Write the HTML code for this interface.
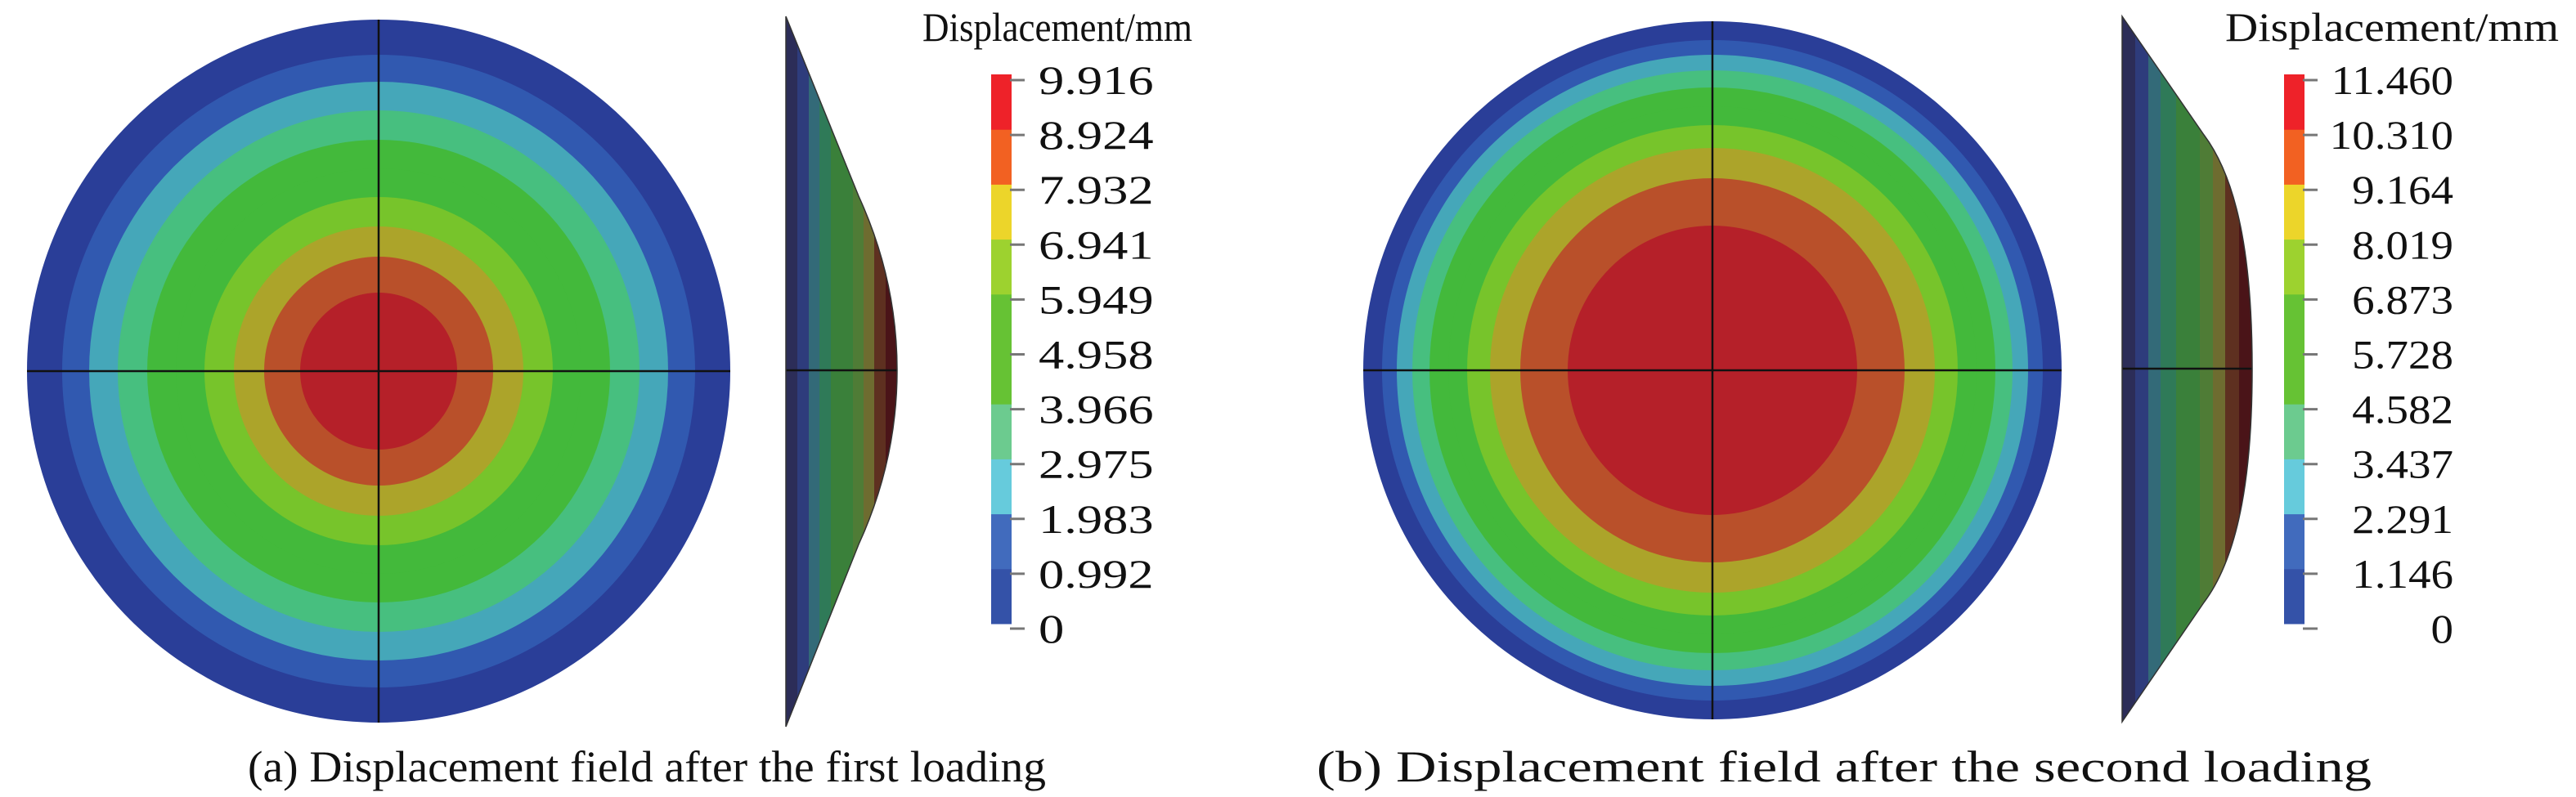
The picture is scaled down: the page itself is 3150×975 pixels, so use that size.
<!DOCTYPE html>
<html><head><meta charset="utf-8">
<style>
html,body{margin:0;padding:0;background:#fff;}
svg{display:block;}
text{font-family:"Liberation Serif","Times New Roman",serif;}
</style></head>
<body>
<svg id="fig" width="3150" height="975" viewBox="0 0 3150 975" xmlns="http://www.w3.org/2000/svg">
<rect width="3150" height="975" fill="#fff"/>
<text x="303" y="956" font-family="Liberation Serif, serif" font-size="54" textLength="976" lengthAdjust="spacingAndGlyphs" fill="#111">(a) Displacement field after the first loading</text>
<text x="1610" y="956" font-family="Liberation Serif, serif" font-size="54" textLength="1290" lengthAdjust="spacingAndGlyphs" fill="#111">(b) Displacement field after the second loading</text>
</svg>
<script>
// ---- data ----
const ringColors = ["#2a3e98","#3159b0","#45a7b9","#47bf7f","#43b93b","#43b93b","#77c42b","#aca42a","#b9502a","#b52029"];
const ringRadiiA = [430,387,354,319,283,248,213,177,140,96];
const ringRadiiB = [427,404,386,367,346,323,300,272,235,177];
const barColors = ["#3452a8","#416bbd","#66cbdc","#6ccb8f","#66c234","#66c234","#9dd22f","#ecd52a","#f26122","#ee2229"];
const ticksA = ["0","0.992","1.983","2.975","3.966","4.958","5.949","6.941","7.932","8.924","9.916"];
const ticksB = ["0","1.146","2.291","3.437","4.582","5.728","6.873","8.019","9.164","10.310","11.460"];
const profColors = ["#2c2d58","#2e3c7c","#336a78","#2f7a58","#3a803a","#4f7c36","#6e6c30","#5e3020","#4a1418"];
const profBandsA = [961,975,989,1002,1016,1043,1056,1069,1083,1097];
const profBandsB = [2595,2611,2627,2642,2661,2690,2706,2721,2738,2754];

const NS="http://www.w3.org/2000/svg";
const svg=document.getElementById('fig');
function mk(tag,attrs,parent){const e=document.createElementNS(NS,tag);for(const k in attrs)e.setAttribute(k,attrs[k]);(parent||svg).appendChild(e);return e;}

function drawCircle(cx,cy,radii,prefix){
  const g=mk('g',{});
  
  
  radii.forEach((r,i)=>{
    const c=mk('circle',{cx:cx,cy:cy,r:r,fill:ringColors[i]},g);
    
    
  });
  const r=radii[0];
  const h=mk('line',{x1:cx-r,y1:cy,x2:cx+r,y2:cy,stroke:"#111","stroke-width":2.5},g);
  
  
  const v=mk('line',{x1:cx,y1:cy-r,x2:cx,y2:cy+r,stroke:"#111","stroke-width":2.5},g);
  
  
}
drawCircle(463,454,ringRadiiA,'a');
drawCircle(2094,453,ringRadiiB,'b');

function drawProfile(bands,pathD,cy,id,prefix){
  const defs=mk('defs',{});
  const cp=mk('clipPath',{id:id},defs);
  mk('path',{d:pathD},cp);
  const g=mk('g',{'clip-path':'url(#'+id+')'});
  
  
  for(let i=0;i<bands.length-1;i++){
    const r=mk('rect',{x:bands[i],y:0,width:bands[i+1]-bands[i]+0.5,height:975,fill:profColors[i]},g);
    
    
  }
  const ln=mk('line',{x1:bands[0],y1:cy,x2:bands[bands.length-1],y2:cy,stroke:"#111","stroke-width":2.5},g);
  
  
  const ol=mk('path',{d:pathD,fill:"none",stroke:"#333","stroke-width":1.5});
  
  
}
drawProfile(profBandsA,"M961,20 L1050,240 C1082,310 1097,380 1097,453 C1097,526 1082,596 1050,666 L961,889 Z",453,'clipA','a');
drawProfile(profBandsB,"M2595,20 L2695,165 C2740,225 2754,330 2754,451 C2754,572 2740,677 2695,737 L2595,883 Z",451,'clipB','b');

function drawBar(x,w,ticks,labelX,anchor,titleX,prefix,stretch,titleLen){
  const top=91,bot=763,n=barColors.length,bh=(bot-top)/n;
  const g=mk('g',{});
  
  
  barColors.forEach((c,i)=>{
    const r=mk('rect',{x:x,y:bot-(i+1)*bh,width:w,height:bh+0.5,fill:c},g);
    
    
  });
  const t0=769,t1=98;
  ticks.forEach((t,i)=>{
    const y=t0-(t0-t1)*i/(ticks.length-1);
    const tk=mk('line',{x1:x+w-2,y1:y,x2:x+w+16,y2:y,stroke:"#777","stroke-width":3},g);
    
    
    const tx=mk('text',{x:labelX,y:y+17,'font-size':50,'font-family':'Liberation Serif, serif',fill:"#111",'text-anchor':anchor},g);
    tx.textContent=t;
    
    
    const L=tx.getComputedTextLength();
    if(L>0){tx.setAttribute('textLength',(L*stretch).toFixed(1));tx.setAttribute('lengthAdjust','spacingAndGlyphs');}
  });
  const title=mk('text',{x:titleX,y:50,'font-size':50,'font-family':'Liberation Serif, serif',fill:"#111",textLength:titleLen,lengthAdjust:'spacingAndGlyphs'});
  title.textContent="Displacement/mm";
  
  
}
drawBar(1212,25,ticksA,1270,'start',1128,'a',1.25,330);
drawBar(2793,25,ticksB,3000,'end',2721,'b',1.1,408);
</script>
</body></html>
